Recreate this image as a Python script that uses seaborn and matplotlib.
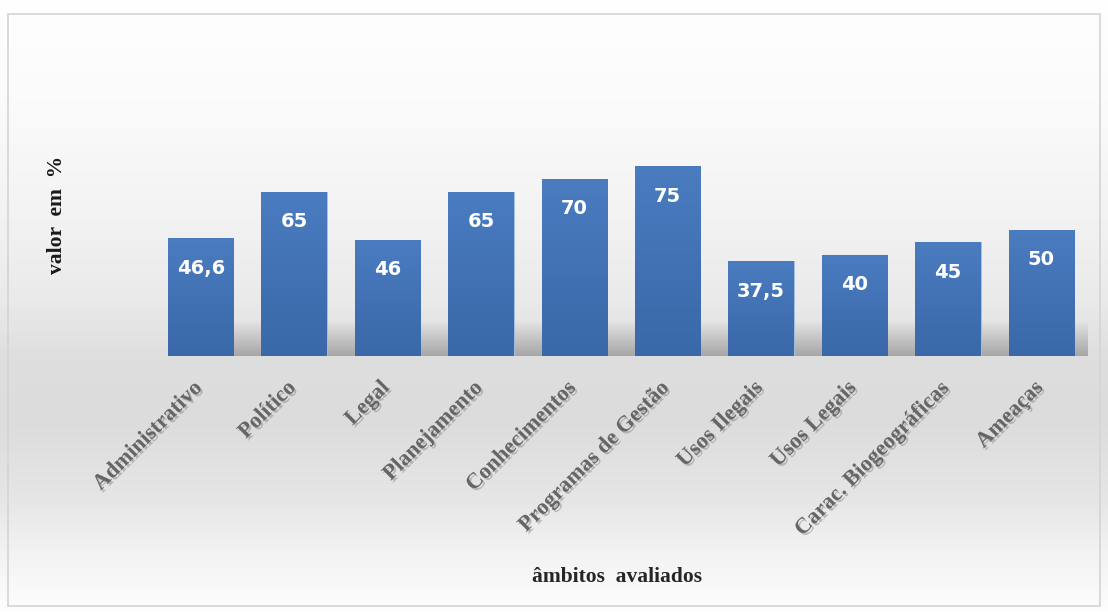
import numpy as np
import pandas as pd
import matplotlib
matplotlib.use("Agg")
import matplotlib.pyplot as plt
import matplotlib.patheffects as pe
import matplotlib.transforms as mtransforms
from matplotlib.colors import LinearSegmentedColormap
import seaborn as sns

categories = ["Administrativo", "Político", "Legal", "Planejamento", "Conhecimentos",
              "Programas de Gestão", "Usos Ilegais", "Usos Legais",
              "Carac. Biogeográficas", "Ameaças"]
values = [46.6, 65, 46, 65, 70, 75, 37.5, 40, 45, 50]
value_labels = ["46,6", "65", "46", "65", "70", "75", "37,5", "40", "45", "50"]

df = pd.DataFrame({"cat": categories, "val": values})

sns.set_theme(style="white")
W, H = 1108, 614
fig = plt.figure(figsize=(W / 100, H / 100), dpi=100)

# background gradient
bg = fig.add_axes([0, 0, 1, 1], zorder=-10)
bg.set_axis_off()
ys = np.array([0, 14, 100, 200, 300, 360, 420, 500, 560, 605, 614]) / H
gs = np.array([255, 254, 251, 244, 234, 222, 220, 230, 244, 252, 255]) / 255
yy = np.linspace(0, 1, 600)
col = np.interp(yy, ys, gs)
img = np.repeat(col[:, None], 4, axis=1)
bg.imshow(np.dstack([img, img, img]), extent=[0, 1, 1, 0], aspect="auto")
bg.set_xlim(0, 1)
bg.set_ylim(1, 0)
bg.add_patch(plt.Rectangle((8 / W, 14 / H), (1100 - 8) / W, (606 - 14) / H,
                           fill=False, edgecolor="#d4d4d4", lw=1.2))

ax = fig.add_axes([154 / W, 258 / H, (1088 - 154) / W, 80 * 2.53 / H])
ax.patch.set_alpha(0)
sns.barplot(data=df, x="cat", y="val", color="#4272b5", width=0.70,
            saturation=1, ax=ax, edgecolor="#a8c3e6", linewidth=0.6, zorder=3)
ax.set_ylim(0, 80)
ax.set_xlim(-0.5, 9.5)

# floor shadow band
sh = np.linspace(0.42, 0.0, 100)[:, None]
shadow = np.zeros((100, 2, 4))
shadow[..., :3] = 0.35
shadow[..., 3] = np.repeat(sh, 2, axis=1)
ax.imshow(shadow, extent=[-0.25, 9.72, 0, 14], origin="lower", aspect="auto",
          zorder=1, interpolation="bilinear")

# gradient on bars
cmap = LinearSegmentedColormap.from_list("b", ["#3a68a8", "#4a7cc0"])
grad = np.linspace(0, 1, 256)[:, None]
for p in ax.patches:
    x0, w, h = p.get_x(), p.get_width(), p.get_height()
    im = ax.imshow(grad, cmap=cmap, extent=[x0, x0 + w, 0, h], origin="lower",
                   aspect="auto", zorder=3.5)
    im.set_clip_path(p)

ax.set_xlim(-0.5, 9.5)
ax.set_ylim(0, 80)

for i, (v, lab) in enumerate(zip(values, value_labels)):
    ax.annotate(lab, (i, v), xytext=(0, -30), textcoords="offset pixels",
                ha="center", va="center", color="white", fontsize=14,
                fontweight="bold", family=["DejaVu Sans"], zorder=5)

for s in ax.spines.values():
    s.set_visible(False)
ax.set_yticks([])
ax.tick_params(axis="x", length=0, pad=12)
shadow_fx = [pe.SimplePatchShadow(offset=(1.5, -1.5), shadow_rgbFace="#808080", alpha=0.45),
             pe.Normal()]
ax.set_xticks(range(len(categories)))
ax.set_xticklabels(categories, rotation=45, ha="right", rotation_mode="anchor",
                   family=["Liberation Serif"], fontsize=16, fontweight="bold",
                   color="#666666", path_effects=shadow_fx)
offset = mtransforms.ScaledTranslation(-8 / 100, -5 / 100, fig.dpi_scale_trans)
for lbl in ax.get_xticklabels():
    lbl.set_transform(lbl.get_transform() + offset)
ax.set_xlabel("")
ax.set_ylabel("")

fig.text(617 / W, 1 - 577 / H, "âmbitos  avaliados", ha="center", va="center",
         family=["Liberation Serif"], fontsize=15.5, fontweight="bold", color="#262626")
fig.text(57 / W, 1 - 215 / H, "valor  em  %", ha="center", va="center", rotation=90,
         family=["Liberation Serif"], fontsize=15.5, fontweight="bold", color="#1a1a1a")

fig.savefig("out.png", dpi=100)
